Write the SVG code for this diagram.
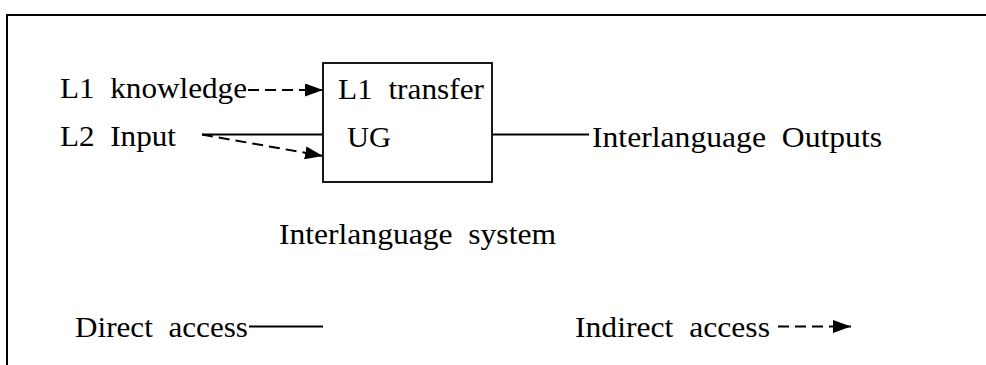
<svg xmlns="http://www.w3.org/2000/svg" width="986" height="365" viewBox="0 0 986 365">
  <style>
    text { font-family: "Liberation Serif", "Times New Roman", serif; font-size: 29px; fill: #000; white-space: pre; }
    .solid { stroke: #000; stroke-width: 2; fill: none; }
    .dash { stroke: #000; stroke-width: 2; fill: none; stroke-dasharray: 11 6; }
    .frame { stroke: #000; stroke-width: 2; fill: none; }
  </style>
  <defs>
    <marker id="head" markerUnits="userSpaceOnUse" markerWidth="19" markerHeight="14" refX="18" refY="6.5" orient="auto">
      <path d="M0,0 L18,6.5 L0,13 z" fill="#000"/>
    </marker>
  </defs>
  <rect width="986" height="365" fill="#fff"/>

  <!-- outer frame, open at right and bottom -->
  <path class="frame" d="M7,365 V15 H986"/>

  <!-- inputs -->
  <g id="l1-knowledge">
    <text x="60" y="98" textLength="187" lengthAdjust="spacingAndGlyphs">L1  knowledge</text>
  </g>
  <g id="l2-input">
    <text x="60" y="146" textLength="116" lengthAdjust="spacingAndGlyphs">L2  Input</text>
  </g>

  <!-- central system box -->
  <g id="system-box">
    <rect x="323" y="63" width="169" height="119" fill="#fff" stroke="#000" stroke-width="1.8"/>
    <text x="338" y="99" textLength="146" lengthAdjust="spacingAndGlyphs">L1  transfer</text>
    <text x="347" y="147" textLength="44" lengthAdjust="spacingAndGlyphs">UG</text>
  </g>

  <g id="outputs">
    <text x="592" y="147" textLength="290" lengthAdjust="spacingAndGlyphs">Interlanguage  Outputs</text>
  </g>

  <g id="system-label">
    <text x="279" y="244" textLength="277" lengthAdjust="spacingAndGlyphs">Interlanguage  system</text>
  </g>

  <!-- legend -->
  <g id="legend-direct">
    <text x="75" y="337" textLength="173" lengthAdjust="spacingAndGlyphs">Direct  access</text>
    <line class="solid" x1="249" y1="326.5" x2="323" y2="326.5"/>
  </g>
  <g id="legend-indirect">
    <text x="575" y="337" textLength="195" lengthAdjust="spacingAndGlyphs">Indirect  access</text>
    <line class="dash" x1="778" y1="326.5" x2="851" y2="326.5" marker-end="url(#head)"/>
  </g>

  <!-- connectors -->
  <g id="connectors">
    <line class="dash" x1="248" y1="90" x2="323" y2="90" marker-end="url(#head)"/>
    <line class="solid" x1="202" y1="134.5" x2="323" y2="134.5"/>
    <line class="dash" x1="202" y1="134.5" x2="323" y2="156" marker-end="url(#head)"/>
    <line class="solid" x1="492" y1="134.5" x2="589" y2="134.5"/>
  </g>
</svg>
